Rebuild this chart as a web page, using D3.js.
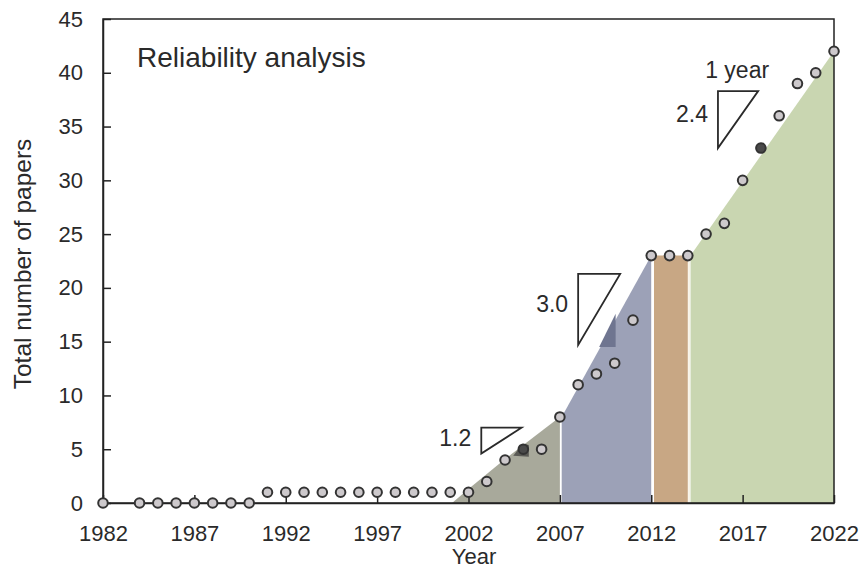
<!DOCTYPE html>
<html><head><meta charset="utf-8">
<script src="https://cdn.jsdelivr.net/npm/d3@7"></script>
<style>body{margin:0;background:#fff;} text{font-family:"Liberation Sans",Arial,sans-serif;fill:#2a2a2a;}</style>
</head><body><svg id="c" width="864" height="571"></svg>
<script>
// ---- data ----
const years  = [1982,1984,1985,1986,1987,1988,1989,1990,1991,1992,1993,1994,1995,1996,1997,1998,1999,2000,2001,2002,2003,2004,2005,2006,2007,2008,2009,2010,2011,2012,2013,2014,2015,2016,2017,2018,2019,2020,2021,2022];
const papers = [0,0,0,0,0,0,0,0,1,1,1,1,1,1,1,1,1,1,1,1,2,4,5,5,8,11,12,13,17,23,23,23,25,26,30,33,36,39,40,42];
const darkYears = [2005, 2018];
const xTicks = [1982,1987,1992,1997,2002,2007,2012,2017,2022];
const yTicks = [0,5,10,15,20,25,30,35,40,45];
// shaded growth phases: [year, value] outlines of the top edge
const phase1 = [[2001.1,0],[2002,1.3],[2004,4.1],[2007,8]];
const phase2 = [[2007.1,8],[2012,23]];
const phase3 = [[2012.15,23],[2014,23]];
const phase4 = [[2014.15,23],[2022,42]];
const phaseColors = ["#a8a99b","#9ca1b7","#c8a784","#c9d6b1"];
// slope triangles: top-left corner (x0,y0), right end x1, bottom y1, label baseline value
const slopes = [
  {x0:2002.7, x1:2004.9, y0:7.0, y1:4.6, labelY:5.3, label:"1.2"},
  {x0:2008.0, x1:2010.3, y0:21.3, y1:14.7, labelY:17.8, label:"3.0"},
  {x0:2015.65, x1:2017.85, y0:38.3, y1:33.0, labelY:35.4, label:"2.4"}
];
const runLabel = {x:2014.95, y:39.5, text:"1 year"};

// ---- chart ----
const svg = d3.select("#c");
const x = d3.scaleLinear().domain([1982,2022]).range([103,834]);
const y = d3.scaleLinear().domain([0,45]).range([503,19]);

const area = d3.area().x(d=>x(d[0])).y0(y(0)).y1(d=>y(d[1]));
[phase1,phase2,phase3,phase4].forEach((p,i)=>{
  svg.append("path").attr("d",area(p)).attr("fill",phaseColors[i]);
});
// separator lines
svg.append("line").attr("x1",x(2012.07)).attr("x2",x(2012.07)).attr("y1",y(23)).attr("y2",y(0)).attr("stroke","#fff").attr("stroke-width",1.5);
svg.append("line").attr("x1",x(2014.07)).attr("x2",x(2014.07)).attr("y1",y(23)).attr("y2",y(0)).attr("stroke","#f6f1e2").attr("stroke-width",1.5);

// small dark shadows
svg.append("path").attr("d",d3.line()([[x(2004.45),y(4.4)],[x(2004.95),y(5.5)],[x(2005.3),y(5.4)],[x(2005.3),y(4.3)]])).attr("fill","#5a5a55");
svg.append("path").attr("d",d3.line()([[x(2009.15),y(14.5)],[x(2010.05),y(17.6)],[x(2010.05),y(14.5)]])).attr("fill","#6f7590");

// frame
svg.append("rect").attr("x",x(1982)).attr("y",y(45)).attr("width",x(2022)-x(1982)).attr("height",y(0)-y(45))
  .attr("fill","none").attr("stroke","#222").attr("stroke-width",1.5);

const ax = svg.append("g").attr("transform",`translate(0,${y(0)})`)
  .call(d3.axisBottom(x).tickValues(xTicks).tickFormat(d3.format("d")).tickSizeInner(-8).tickSizeOuter(0).tickPadding(22));
const ay = svg.append("g").attr("transform",`translate(${x(1982)},0)`)
  .call(d3.axisLeft(y).tickValues(yTicks).tickSizeInner(-8).tickSizeOuter(0).tickPadding(20));
[ax,ay].forEach(g=>{
  g.select(".domain").attr("stroke","#222").attr("stroke-width",1.5);
  g.selectAll(".tick line").attr("stroke","#222").attr("stroke-width",1.5);
  g.selectAll(".tick text").attr("font-size",22).attr("fill","#2a2a2a").attr("font-family","Liberation Sans, Arial, sans-serif");
});

// slope triangles
slopes.forEach(s=>{
  svg.append("path").attr("d",d3.line()([[x(s.x0),y(s.y0)],[x(s.x1),y(s.y0)],[x(s.x0),y(s.y1)]])+"Z")
    .attr("fill","#fff").attr("stroke","#2a2a2a").attr("stroke-width",1.8);
  svg.append("text").attr("x",x(s.x0)-10).attr("y",y(s.labelY))
    .attr("text-anchor","end").attr("font-size",23).text(s.label);
});
svg.append("text").attr("x",x(runLabel.x)).attr("y",y(runLabel.y)).attr("font-size",23).text(runLabel.text);

// points
svg.selectAll("circle.p").data(years.map((d,i)=>[d,papers[i]])).join("circle")
  .attr("cx",d=>x(d[0])).attr("cy",d=>y(d[1])).attr("r",4.8)
  .attr("fill",d=>darkYears.includes(d[0])?"#4a4a4a":"#cdc9cc")
  .attr("stroke","#333").attr("stroke-width",2);

// labels
svg.append("text").attr("x",137).attr("y",67).attr("font-size",28).text("Reliability analysis");
svg.append("text").attr("x",474).attr("y",564).attr("text-anchor","middle").attr("font-size",22).text("Year");
svg.append("text").attr("transform","translate(31,264) rotate(-90)").attr("text-anchor","middle").attr("font-size",24.5).text("Total number of papers");
</script></body></html>
